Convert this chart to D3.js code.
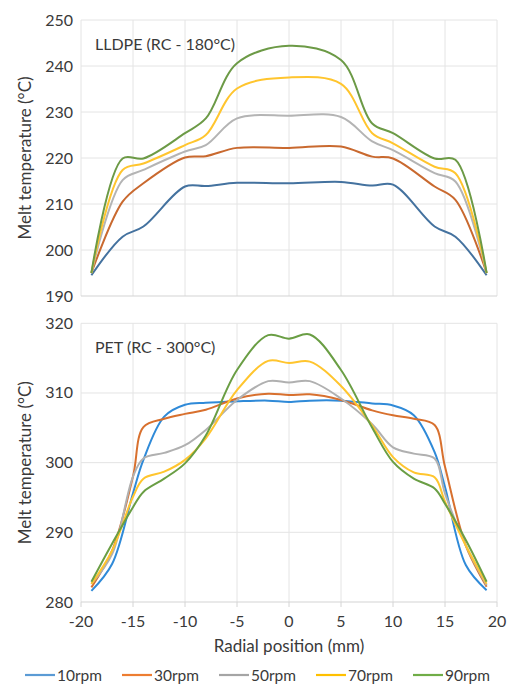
<!DOCTYPE html>
<html><head><meta charset="utf-8">
<script src="https://cdn.jsdelivr.net/npm/d3@7"></script>
<style>
html,body{margin:0;padding:0;background:#fff;}
svg text{font-family:Lato,"Open Sans",sans-serif;fill:#3a3a3a;}
</style></head>
<body>
<svg id="c" width="507" height="684"></svg>
<script>
// ---------- data ----------
const seriesNames = ["10rpm","30rpm","50rpm","70rpm","90rpm"];
const legendColors = ["#5B9BD5","#ED7D31","#A5A5A5","#FFC000","#70AD47"];
const lldpeColors = ["#44729F","#C9692F","#B4B4B4","#FFC52E","#6C9A46"];
const petColors = ["#2F8AD8","#D8702E","#B0B0B0","#FFC52E","#6A9E44"];

const lldpeX = [-19,-16,-14,-10,-8,-5,0,5,8,10,14,16,19];
const lldpe10 = [194.5,202.9,205.1,213.8,213.9,214.6,214.5,214.8,214.0,214.2,205.1,202.9,194.5];
const lldpe30 = [195.0,210.5,214.5,220.1,220.4,222.2,222.2,222.5,220.3,219.9,213.8,210.9,195.0];
const lldpe50 = [195.0,215.2,217.4,221.4,222.8,228.6,229.2,228.9,223.6,221.7,216.7,214.9,195.0];
const lldpe70 = [195.0,217.4,218.8,222.8,225.0,235.1,237.5,236.1,225.4,223.2,218.1,216.7,195.0];
const lldpe90 = [195.0,219.9,219.9,225.4,228.6,240.6,244.4,241.3,227.5,225.4,219.9,219.6,195.0];

const petX = [-19,-17,-15,-14,-12,-10,-8,-5,-2,0,2,5,8,10,12,14,15,17,19];
const pet10 = [281.6,285.5,295.6,300.4,306.6,308.3,308.6,308.8,308.9,308.7,308.9,308.9,308.5,308.2,306.8,301.5,296.5,285.3,281.7];
const pet30 = [282.1,287.4,298.0,305.1,306.3,307.0,307.6,309.2,309.9,309.7,309.8,309.0,307.5,306.8,306.3,305.4,299.4,288.1,282.2];
const pet50 = [282.6,286.9,298.0,300.6,301.4,302.5,304.7,309.0,311.7,311.5,311.7,309.2,305.5,302.2,301.3,300.6,295.6,288.1,282.4];
const pet70 = [282.6,287.4,295.1,297.7,298.7,300.4,303.5,310.4,314.6,314.3,314.5,311.0,305.3,300.8,298.6,297.9,294.4,288.1,282.6];
const pet90 = [282.9,288.4,293.6,295.8,297.7,299.9,303.9,313.3,318.3,317.8,318.4,313.3,305.0,300.1,297.7,296.3,294.1,288.9,282.9];

const xTicks = [-20,-15,-10,-5,0,5,10,15,20];
const lldpeTicks = [190,200,210,220,230,240,250];
const petTicks = [280,290,300,310,320];
const yTitle = "Melt temperature (°C)";
const xTitle = "Radial position (mm)";
const lldpeLabel = "LLDPE (RC - 180°C)";
const petLabel = "PET (RC - 300°C)";

// ---------- drawing ----------
const svg = d3.select("#c");
const x = d3.scaleLinear().domain([-20,20]).range([81,497]);

function panel(opts){
  const y = d3.scaleLinear().domain(opts.domain).range([opts.bottom, opts.top]);
  const g = svg.append("g");
  g.selectAll(".vg").data(xTicks).join("line")
    .attr("x1",d=>x(d)).attr("x2",d=>x(d))
    .attr("y1",opts.top).attr("y2",opts.bottom)
    .attr("stroke","#e4e4e4").attr("stroke-width",1);
  g.selectAll(".hg").data(opts.ticks.slice(1)).join("line")
    .attr("x1",x(-20)).attr("x2",x(20))
    .attr("y1",d=>y(d)).attr("y2",d=>y(d))
    .attr("stroke","#e4e4e4").attr("stroke-width",1);
  g.append("line").attr("x1",x(-20)).attr("x2",x(20))
    .attr("y1",opts.bottom).attr("y2",opts.bottom)
    .attr("stroke","#d4d4d4").attr("stroke-width",1.2);
  if(opts.showX){
    g.selectAll(".xt").data(xTicks).join("line")
      .attr("x1",d=>x(d)).attr("x2",d=>x(d))
      .attr("y1",opts.bottom).attr("y2",opts.bottom+5)
      .attr("stroke","#d4d4d4");
    g.selectAll(".xl").data(xTicks).join("text")
      .attr("x",d=>x(d)).attr("y",627)
      .attr("text-anchor","middle").attr("font-size",16)
      .text(d=>d);
  }
  g.selectAll(".yl").data(opts.ticks).join("text")
    .attr("x",73).attr("y",d=>y(d)+5.5)
    .attr("text-anchor","end").attr("font-size",16)
    .text(d=>d);
  g.append("text")
    .attr("transform",`translate(31,${(opts.top+opts.bottom)/2}) rotate(-90)`)
    .attr("text-anchor","middle").attr("font-size",17)
    .text(yTitle);
  g.append("text").attr("x",95).attr("y",opts.top+30)
    .attr("font-size",16).text(opts.label);
  const line = d3.line().x(d=>x(d[0])).y(d=>y(d[1])).curve(d3.curveCatmullRom.alpha(0.5));
  opts.series.forEach((s,i)=>{
    g.append("path").datum(opts.xs.map((xv,j)=>[xv,s[j]]))
      .attr("d",line).attr("fill","none")
      .attr("stroke",opts.colors[i]).attr("stroke-width",2);
  });
}

panel({domain:[190,250], top:20, bottom:296, ticks:lldpeTicks, xs:lldpeX,
  series:[lldpe10,lldpe30,lldpe50,lldpe70,lldpe90], colors:lldpeColors,
  label:lldpeLabel, showX:false});
panel({domain:[280,320], top:323.3, bottom:602, ticks:petTicks, xs:petX,
  series:[pet10,pet30,pet50,pet70,pet90], colors:petColors,
  label:petLabel, showX:true});

svg.append("text").attr("x",289).attr("y",652).attr("text-anchor","middle")
  .attr("font-size",17).text(xTitle);

const lg = svg.append("g");
seriesNames.forEach((n,i)=>{
  const lx = 25 + i*97;
  lg.append("line").attr("x1",lx).attr("x2",lx+30).attr("y1",675).attr("y2",675)
    .attr("stroke",legendColors[i]).attr("stroke-width",2.2);
  lg.append("text").attr("x",lx+32).attr("y",680.5).attr("font-size",15.5).text(n);
});
</script>
</body></html>
